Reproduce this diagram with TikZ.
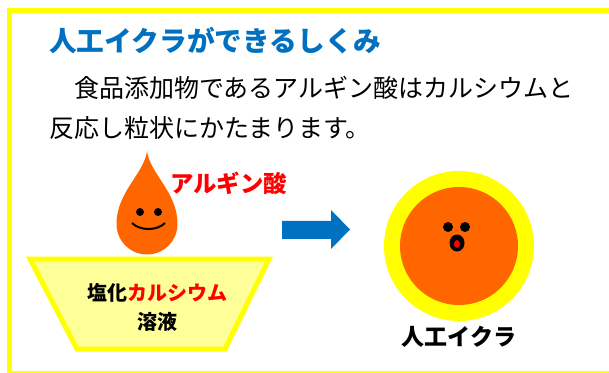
\documentclass[tikz,border=0pt]{standalone}
\usepackage{fontspec}
\setmainfont{Noto Sans CJK JP}
\usepackage{tikz}
\definecolor{headBlue}{HTML}{0070C0}
\definecolor{dropOrange}{HTML}{FF6600}
\definecolor{rimYellow}{HTML}{FFFF00}
\definecolor{bathYellow}{HTML}{FFFF99}
\definecolor{labelRed}{HTML}{FF0000}
\tikzset{
     frame/.style={draw=rimYellow, line width=5pt},
     jlabel/.style={inner sep=0pt, font=\fontsize{#1}{#1}\selectfont\bfseries},
     eye/.style={circle, fill=black, inner sep=0pt, minimum size=#1}
     }
\usetikzlibrary{positioning}

\begin{document}
\begin{tikzpicture}[x=1pt,y=1pt]
                    \useasboundingbox (0,0) rectangle (609,372);
                    \clip (0,0) rectangle (609,372);
                    % Frame
                    \draw[frame] (9.8,361.5) rectangle (620,-1.3);
                    % Heading and text
                    \node[anchor=west, inner sep=0pt, text=headBlue,
                          font=\fontsize{27.7}{30}\selectfont\bfseries] (title) at (49,331) {人工イクラができるしくみ};
                    \node[anchor=west, inner sep=0pt, align=left,
                          font=\fontsize{25}{40}\selectfont] (intro) at (49,264)
                          {　食品添加物であるアルギン酸はカルシウムと\\反応し粒状にかたまります。};
                    % Drop of alginate
                    \fill[dropOrange] (147,221) .. controls (144,198) and (116.5,180) .. (116.5,148)
                          arc[start angle=180, end angle=360, radius=30.5]
                          .. controls (177.5,180) and (150,198) .. (147,221);
                    \node[eye=8pt] (dropEyeL) at (140,160) {};
                    \node[eye=8pt] (dropEyeR) at (158,160) {};
                    \draw[line width=2pt] (132,149) .. controls (140,141) and (157,141) .. (165,149);
                    \node[jlabel=23.4, text=labelRed] (alginate) at (228.5,189) {アルギン酸};
                    % Bath of calcium chloride
                    \filldraw[frame, fill=bathYellow, line join=miter] (30,113) -- (269,113) -- (225,23) -- (77,23) -- cycle;
                    \node[jlabel=20, align=center] (bath) at (157,64.5)
                          {塩化\textcolor{labelRed}{カルシウム}\\[9pt]溶液};
                    % Block arrow
                    \fill[headBlue] (282,151) -- (331,151) -- (331,162) -- (350,142.5) -- (331,123)
                          -- (331,133) -- (282,133) -- cycle;
                    % Artificial roe
                    \node[circle, fill=rimYellow, minimum size=150pt, inner sep=0pt] (roe) at (459,126) {};
                    \node[circle, fill=dropOrange, minimum size=118pt, inner sep=0pt] (yolk) at (roe.center) {};
                    \node[eye=10pt] (roeEyeL) at (448,145) {};
                    \node[eye=10pt] (roeEyeR) at (465,145) {};
                    \fill[black] (457,129) ellipse[x radius=7.5, y radius=8.5];
                    \fill[labelRed] (457,128) ellipse[x radius=3, y radius=4];
                    \node[jlabel=23, below=5pt of roe] (roeLabel) {人工イクラ};
                \end{tikzpicture}
\end{document}
